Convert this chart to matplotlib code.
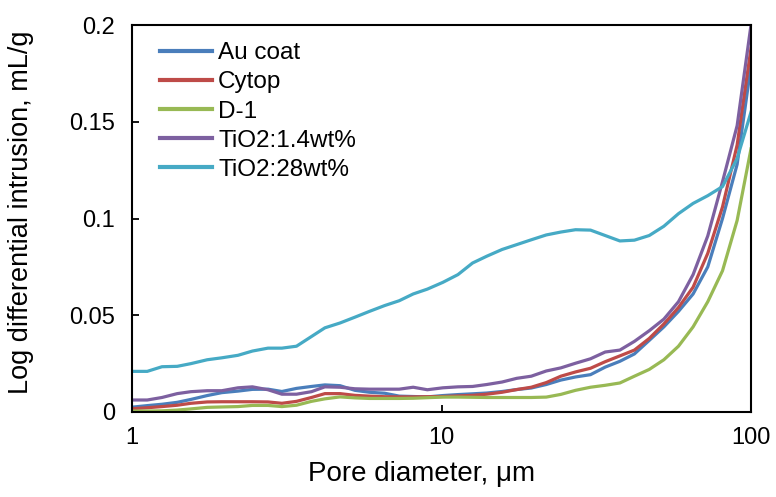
import matplotlib
matplotlib.use("Agg")
import matplotlib.pyplot as plt
from matplotlib.ticker import FixedLocator, FuncFormatter, NullLocator

plt.rcParams['font.family'] = ['Liberation Sans', 'DejaVu Sans']

diameter = [1.0, 1.12, 1.25, 1.4, 1.55, 1.75, 1.95, 2.2, 2.45, 2.75, 3.05, 3.4, 3.8, 4.2,
            4.7, 5.25, 5.85, 6.55, 7.3, 8.1, 9.0, 10.1, 11.3, 12.6, 14.0, 15.7, 17.5,
            19.5, 21.8, 24.3, 27.1, 30.3, 33.8, 37.7, 42.0, 46.9, 52.3, 58.3, 65.0,
            72.5, 80.9, 90.2, 100]

au_coat = [0.0025, 0.0033, 0.0040, 0.0050, 0.0065, 0.0085, 0.0100, 0.0108, 0.0117, 0.0118,
           0.0106, 0.0122, 0.0132, 0.0140, 0.0136, 0.0112, 0.0102, 0.0097, 0.0082, 0.0080,
           0.0078, 0.0085, 0.0090, 0.0094, 0.0098, 0.0106, 0.0116, 0.0124, 0.0142, 0.0165,
           0.0181, 0.0193, 0.0232, 0.0262, 0.0300, 0.0370, 0.0440, 0.0520, 0.0610, 0.0750,
           0.1000, 0.1280, 0.1790]

cytop = [0.0017, 0.0022, 0.0028, 0.0035, 0.0045, 0.0052, 0.0053, 0.0053, 0.0053, 0.0052,
         0.0045, 0.0055, 0.0075, 0.0095, 0.0095, 0.0086, 0.0082, 0.0079, 0.0078, 0.0078,
         0.0079, 0.0080, 0.0083, 0.0086, 0.0092, 0.0102, 0.0116, 0.0128, 0.0152, 0.0185,
         0.0207, 0.0226, 0.0260, 0.0290, 0.0320, 0.0380, 0.0455, 0.0540, 0.0645, 0.0820,
         0.1060, 0.1380, 0.1880]

d1 = [0.0005, 0.0005, 0.0006, 0.0010, 0.0016, 0.0024, 0.0026, 0.0028, 0.0034, 0.0034,
      0.0028, 0.0035, 0.0055, 0.0068, 0.0078, 0.0073, 0.0070, 0.0070, 0.0070, 0.0071,
      0.0074, 0.0077, 0.0077, 0.0076, 0.0075, 0.0075, 0.0075, 0.0075, 0.0077, 0.0091,
      0.0112, 0.0128, 0.0138, 0.0150, 0.0185, 0.0220, 0.0270, 0.0340, 0.0440, 0.0570,
      0.0730, 0.0990, 0.1360]

tio2_14 = [0.0062, 0.0062, 0.0075, 0.0095, 0.0105, 0.0110, 0.0110, 0.0125, 0.0130, 0.0115,
           0.0092, 0.0092, 0.0105, 0.0130, 0.0128, 0.0120, 0.0118, 0.0118, 0.0118, 0.0128,
           0.0115, 0.0125, 0.0130, 0.0132, 0.0142, 0.0155, 0.0174, 0.0185, 0.0212, 0.0228,
           0.0252, 0.0275, 0.0310, 0.0320, 0.0365, 0.0420, 0.0480, 0.0570, 0.0710, 0.0910,
           0.1190, 0.1480, 0.2000]

tio2_28 = [0.0210, 0.0210, 0.0234, 0.0236, 0.0250, 0.0270, 0.0280, 0.0293, 0.0315, 0.0330,
           0.0330, 0.0340, 0.0390, 0.0435, 0.0460, 0.0490, 0.0520, 0.0550, 0.0575, 0.0610,
           0.0635, 0.0670, 0.0710, 0.0770, 0.0805, 0.0840, 0.0865, 0.0890, 0.0915, 0.0930,
           0.0942, 0.0940, 0.0912, 0.0884, 0.0888, 0.0912, 0.0960, 0.1025, 0.1078, 0.1118,
           0.1165, 0.1310, 0.1550]

series_labels = ["Au coat", "Cytop", "D-1", "TiO2:1.4wt%", "TiO2:28wt%"]
series_values = [au_coat, cytop, d1, tio2_14, tio2_28]
series_colors = ["#4A7EBB", "#BE4B48", "#98B954", "#7D60A0", "#46AAC5"]

x_ticks = [1, 10, 100]
y_ticks = [0, 0.05, 0.1, 0.15, 0.2]

FS = 17

fig = plt.figure(figsize=(7.76, 4.97), dpi=100)
ax = fig.add_axes([132 / 776, 1 - 412 / 497, (751 - 132) / 776, (412 - 25) / 497])

for lab, vals, col in zip(series_labels, series_values, series_colors):
    ax.plot(diameter, vals, color=col, lw=2.3, label=lab, solid_joinstyle='round')

ax.set_xscale('log')
ax.set_xlim(1, 100)
ax.set_ylim(0, 0.2)
ax.xaxis.set_major_locator(FixedLocator(x_ticks))
ax.xaxis.set_minor_locator(NullLocator())
ax.xaxis.set_major_formatter(FuncFormatter(lambda v, p: f"{v:g}"))
ax.yaxis.set_major_locator(FixedLocator(y_ticks))
ax.yaxis.set_major_formatter(FuncFormatter(lambda v, p: f"{v:g}"))

ax.tick_params(axis='both', direction='in', length=5, width=1.3, labelsize=FS,
               colors='black')
ax.tick_params(axis='x', pad=11)
ax.tick_params(axis='y', pad=12)
for s in ax.spines.values():
    s.set_linewidth(1.5)
    s.set_color('black')

ax.set_xlabel("Pore diameter, μm", fontsize=20)
ax.xaxis.set_label_coords(0.4685, -0.127)
ax.set_ylabel("Log differential intrusion, mL/g", fontsize=19.5)
ax.yaxis.set_label_coords(-0.158, 0.515)

leg = ax.legend(loc='upper left', bbox_to_anchor=(0.045, 0.955), frameon=False,
                fontsize=17.5, handlelength=2.15, handletextpad=0.25,
                labelspacing=0.29, borderaxespad=0.0, borderpad=0.0)
for h in leg.legend_handles:
    h.set_linewidth(3)

fig.savefig("out.png", dpi=100)
